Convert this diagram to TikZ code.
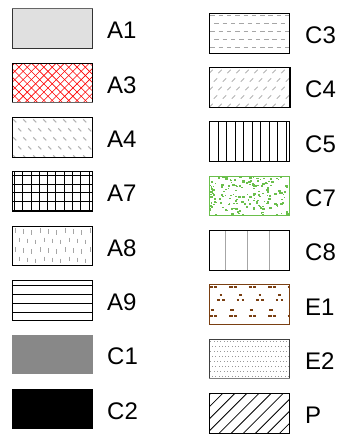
\documentclass[tikz,border=0pt]{standalone}
\usepackage{fontspec}
\setmainfont{Liberation Sans}
\definecolor{greenC}{HTML}{6ABF4B}
\definecolor{brownE}{HTML}{7A3F12}
\definecolor{grayC}{HTML}{888888}
\begin{document}
\begin{tikzpicture}[x=1pt,y=-1pt,
  swatch/.style={minimum width=80.4pt,minimum height=39.7pt,inner sep=0pt,outer sep=0pt,draw=black,line width=0.9pt},
  lbl/.style={anchor=base west,inner sep=0pt,font=\fontsize{24}{28}\selectfont}]
\useasboundingbox (0,0) rectangle (344,444);

% ---------- patterns (drawn first, boxes on top) ----------
\begin{scope}[shift={(12.3,63.05)}]
  \clip (0,0) rectangle (80.4,39.7);
  \foreach \k in {-5,...,15}{
    \draw[red,line width=0.6pt] ({\k*8.3+2.5},0) -- ++(40,40);
    \draw[red,line width=0.6pt] ({\k*8.3+2.5},0) -- ++(-40,40);}
\end{scope}
\begin{scope}[shift={(12.3,117.35)}]
  \clip (0,0) rectangle (80.4,39.7);
  \foreach \j in {0,...,4}{\foreach \i in {0,...,8}{
    \draw[black!30,line width=1pt] ({\i*10+mod(\j,2)*5+1},{\j*9+2}) -- ++(3,3);}}
\end{scope}
\begin{scope}[shift={(12.3,171.65)}]
  \clip (0,0) rectangle (80.4,39.7);
  \foreach \i in {0,...,9}{\draw[line width=0.7pt] ({\i*8.3+2},0) -- ++(0,40);}
  \foreach \j in {0,...,4}{\draw[line width=0.7pt] (0,{\j*8.7+3.5}) -- ++(81,0);}
\end{scope}
\begin{scope}[shift={(12.3,226.05)}]
  \clip (0,0) rectangle (80.4,39.7);
  \foreach \j in {0,...,3}{\foreach \i in {0,...,9}{
    \draw[black!35,line width=0.9pt] ({\i*8.3+3+mod(\j,2)*4},{\j*9.5+2+mod(\i,3)}) -- ++(0,4.5);}}
\end{scope}
\begin{scope}[shift={(12.3,280.35)}]
  \foreach \yy in {5,14,23,32}{\draw[line width=0.7pt] (0,\yy) -- (80.4,\yy);}
\end{scope}
\begin{scope}[shift={(209.3,13.3)}]
  \clip (0,0) rectangle (80.4,39.7);
  \foreach \j in {0,...,4}{\foreach \i in {0,...,9}{
    \draw[black!35,line width=0.9pt] ({\i*8.3+mod(\j,2)*4+1},{\j*8+1.7}) -- ++(4.5,0);}}
\end{scope}
\begin{scope}[shift={(209.3,67.6)}]
  \clip (0,0) rectangle (80.4,39.7);
  \foreach \j in {0,...,4}{\foreach \i in {0,...,9}{
    \draw[black!30,line width=0.9pt] ({\i*9+mod(\j,2)*4.5},{\j*8.5+5.5}) -- ++(3.3,-3.3);}}
\end{scope}
\begin{scope}[shift={(209.3,121.9)}]
  \foreach \i in {0,...,8}{\draw[line width=0.7pt] ({\i*8.45+9},0) -- ++(0,39.7);}
\end{scope}
\begin{scope}[shift={(209.3,176.2)}]
  \clip (0,0) rectangle (80.4,39.7);
  \pgfmathsetseed{11}
  \foreach \n in {1,...,170}{
    \pgfmathsetmacro\rx{rnd*78}\pgfmathsetmacro\ry{rnd*38}\pgfmathsetmacro\rs{1.2+rnd*1.6}
    \fill[greenC] (\rx,\ry) rectangle ++({\rs},{\rs*0.8});}
\end{scope}
\begin{scope}[shift={(209.3,230.5)}]
  \foreach \xx in {16,38.4,60.4}{\draw[black!35,line width=0.8pt] (\xx,0) -- (\xx,39.7);}
\end{scope}
\begin{scope}[shift={(209.3,284.8)}]
  \clip (0,0) rectangle (80.4,39.7);
  \foreach \p in {0,...,4}{
    \begin{scope}[shift={({\p*19.5},0)},brownE,line width=1.5pt]
      \draw (0.3,2) -- (3.7,2); \draw (4.7,2) -- (8,2);
      \draw (10.3,10.3) -- (12.9,10.3);
      \draw (8,15.3) -- (10.5,15.3); \draw (12.7,15.3) -- (15.3,15.3);
      \draw (1.3,25.3) -- (4.7,25.3);
      \draw (0.3,31) -- (3.7,31); \draw (4.7,31) -- (8,31);
    \end{scope}}
\end{scope}
\begin{scope}[shift={(209.3,339.1)}]
  \clip (0,0) rectangle (80.4,39.7);
  \foreach \j in {0,...,7}{\foreach \i in {0,...,24}{
    \fill[black!40] ({\i*3.3+1+mod(\j,2)*1.6},{\j*5+2.2}) rectangle ++(1,1);}}
\end{scope}
\begin{scope}[shift={(209.3,393.4)}]
  \clip (0,0) rectangle (80.4,39.7);
  \foreach \k in {0,...,10}{\draw[line width=0.8pt] ({\k*12.1+1.3},0) -- ++(-40,40);}
\end{scope}

% ---------- left column ----------
\node[swatch,fill=black!12,draw=black!80] (A1) at (52.5,28.55) {};
\draw[black!60,line width=1.2pt] (A1.north west) -- (A1.north east);
\node[swatch] (A3) at (52.5,82.9) {};
\draw[black!60,line width=1.2pt] (A3.south west) -- (A3.south east);
\node[swatch] (A4) at (52.5,137.2) {};
\node[swatch] (A7) at (52.5,191.5) {};
\node[swatch] (A8) at (52.5,245.9) {};
\node[swatch] (A9) at (52.5,300.2) {};
\node[swatch,draw=none,fill=grayC] (C1) at (52.5,354.5) {};
\node[swatch,draw=none,fill=black] (C2) at (52.5,408.9) {};

% ---------- right column ----------
\node[swatch] (C3) at (249.5,33.15) {};
\node[swatch,line width=1.6pt] (C4) at (249.5,87.45) {};
\node[swatch] (C5) at (249.5,141.75) {};
\node[swatch,draw=greenC] (C7) at (249.5,196.05) {};
\node[swatch] (C8) at (249.5,250.35) {};
\node[swatch,draw=brownE] (E1) at (249.5,304.65) {};
\node[swatch,draw=black!75] (E2) at (249.5,358.95) {};
\draw[black!50,line width=1.2pt] (E2.south west) -- (E2.south east);
\node[swatch] (P) at (249.5,413.25) {};

% ---------- labels ----------
\node[lbl] (lA1) at (107,39) {A1};
\node[lbl] (lA3) at (107,93.35) {A3};
\node[lbl] (lA4) at (107,147.65) {A4};
\node[lbl] (lA7) at (107,201.95) {A7};
\node[lbl] (lA8) at (107,256.35) {A8};
\node[lbl] (lA9) at (107,310.65) {A9};
\node[lbl] (lC1) at (107,364.95) {C1};
\node[lbl] (lC2) at (107,419.35) {C2};
\node[lbl] (lC3) at (305,43.6) {C3};
\node[lbl] (lC4) at (305,97.9) {C4};
\node[lbl] (lC5) at (305,152.2) {C5};
\node[lbl] (lC7) at (305,206.5) {C7};
\node[lbl] (lC8) at (305,260.8) {C8};
\node[lbl] (lE1) at (305,315.1) {E1};
\node[lbl] (lE2) at (305,369.4) {E2};
\node[lbl] (lP) at (305,423.7) {P};
\end{tikzpicture}
\end{document}
